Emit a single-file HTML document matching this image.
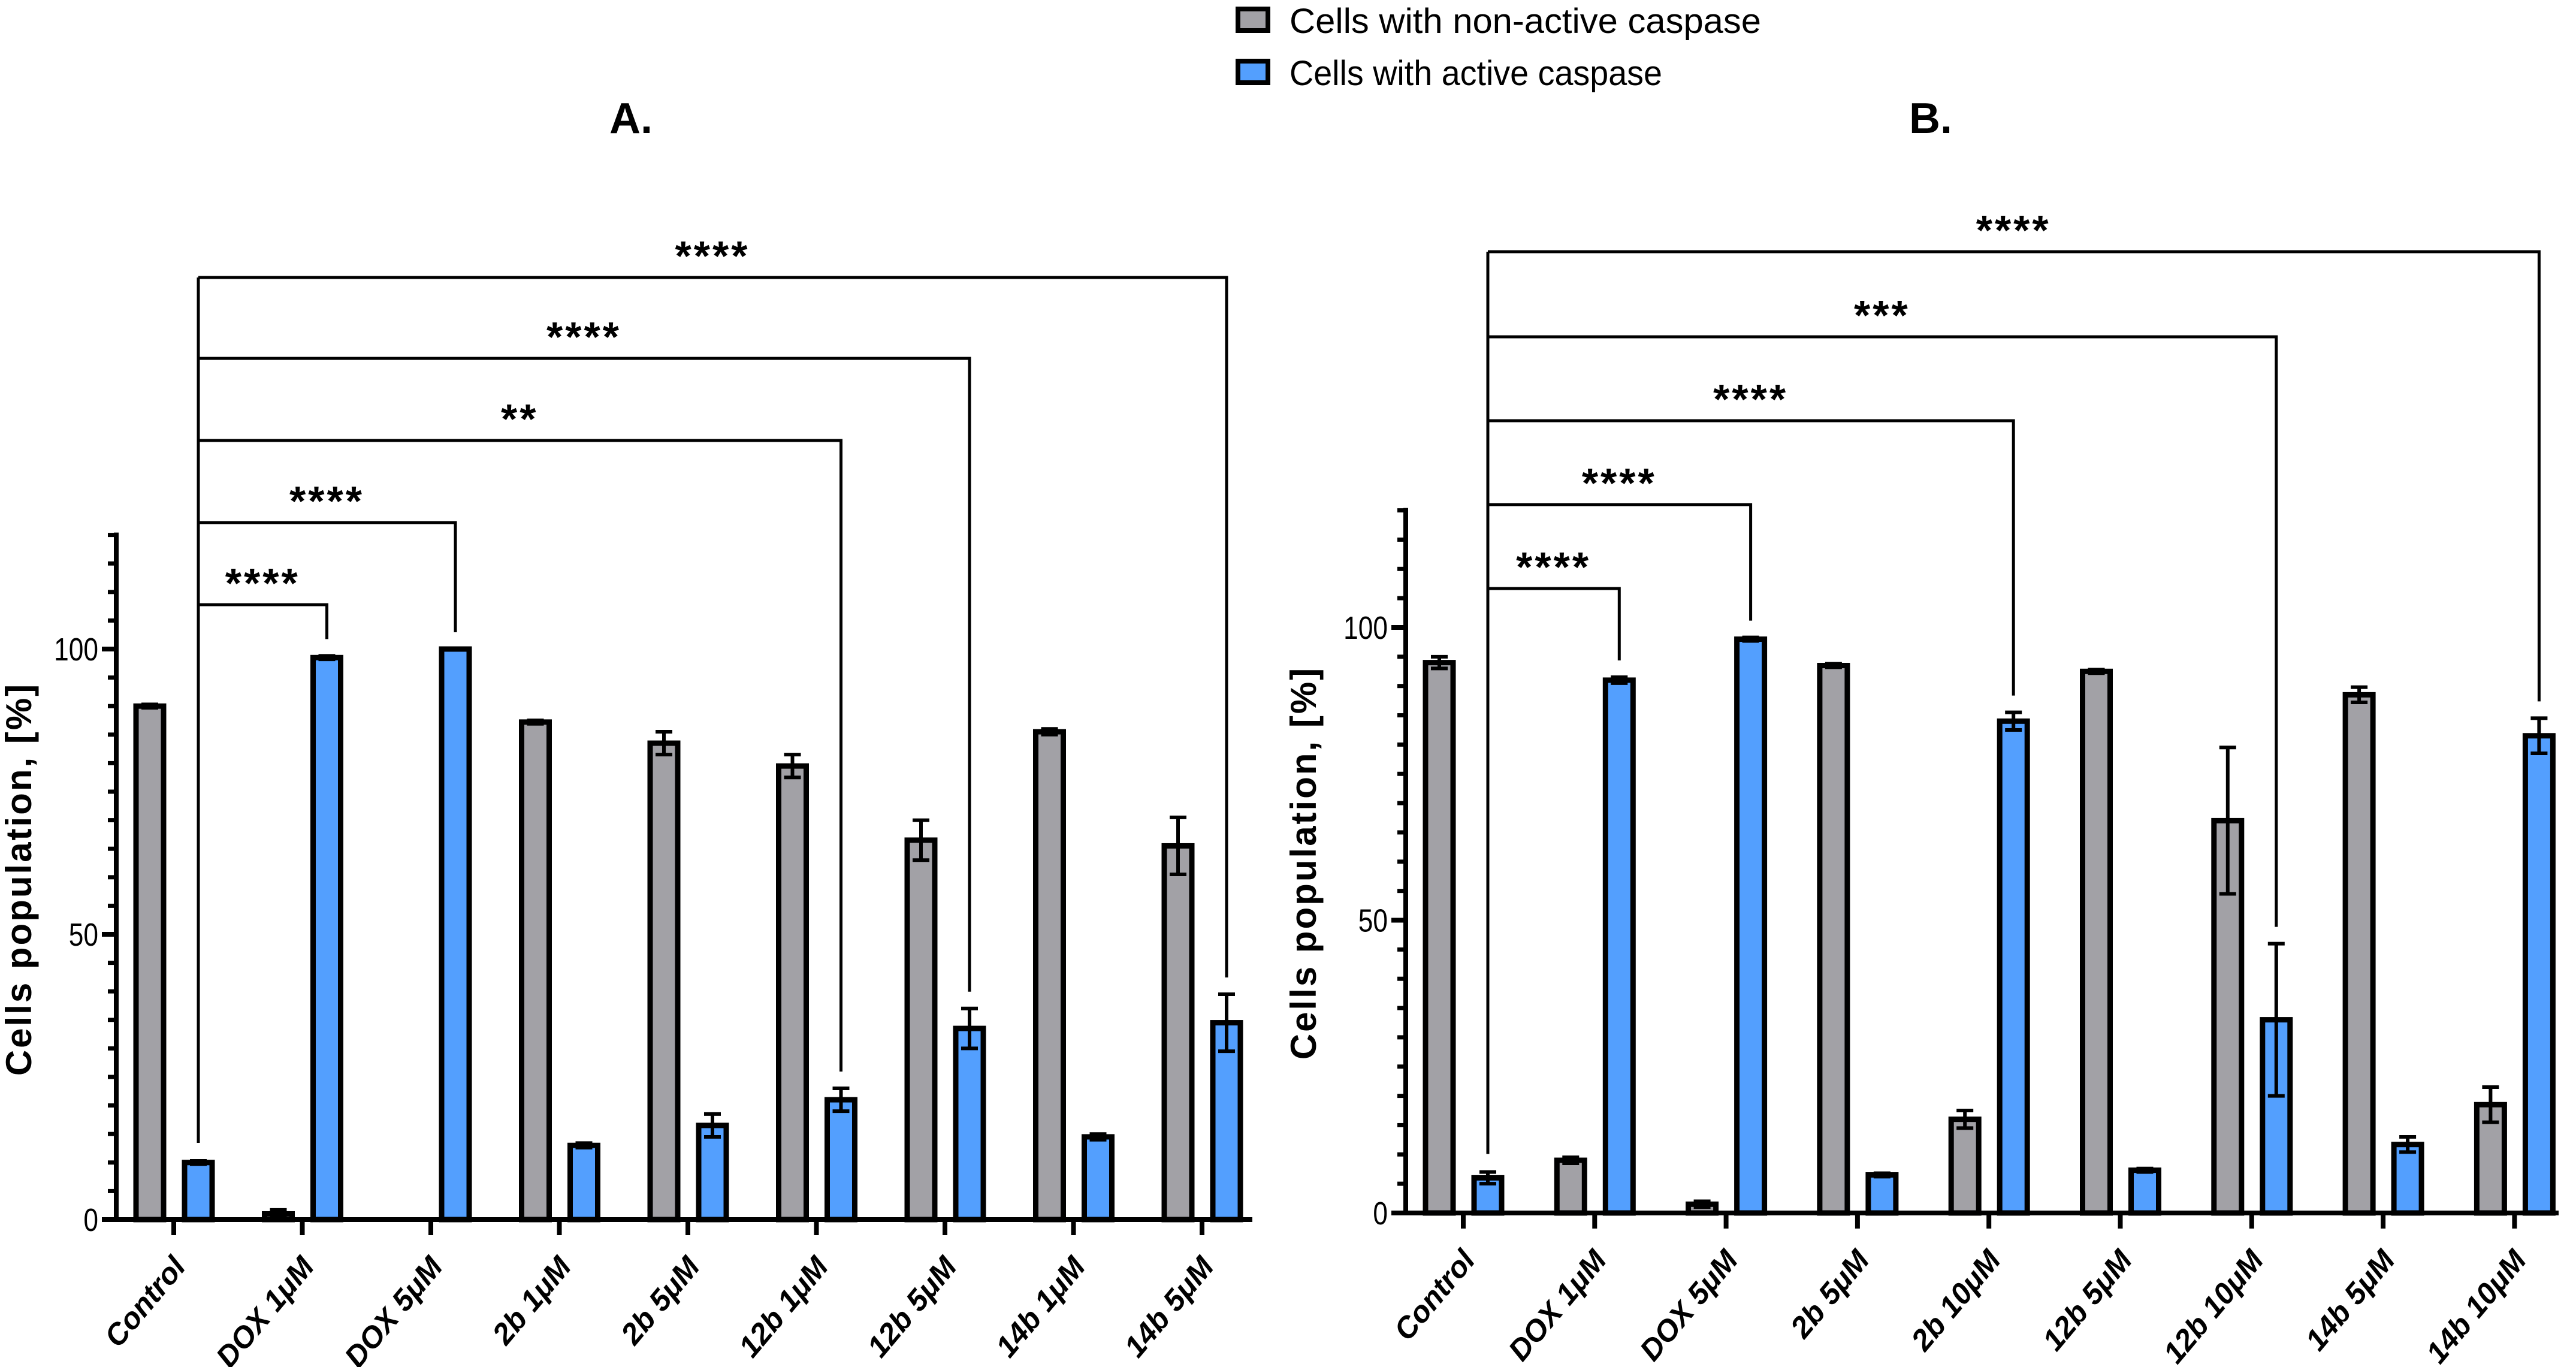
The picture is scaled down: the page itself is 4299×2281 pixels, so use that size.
<!DOCTYPE html>
<html><head><meta charset="utf-8"><style>
html,body{margin:0;padding:0;background:#fff;}
svg{display:block;font-family:"Liberation Sans",Arial,sans-serif;}
</style></head><body>
<svg id="chart" width="4299" height="2281" viewBox="0 0 4299 2281" xmlns="http://www.w3.org/2000/svg">
<g>
 <rect x="2066" y="15" width="50" height="36" fill="#a2a1a6" stroke="#000" stroke-width="8"/>
 <text x="2152" y="55" font-size="58" textLength="787" lengthAdjust="spacingAndGlyphs">Cells with non-active caspase</text>
 <rect x="2066" y="102" width="50" height="36" fill="#539ffe" stroke="#000" stroke-width="8"/>
 <text x="2152" y="142" font-size="58" textLength="622" lengthAdjust="spacingAndGlyphs">Cells with active caspase</text>
</g>
<text x="1053" y="222" font-size="72" font-weight="bold" text-anchor="middle">A.</text>
<text x="3222" y="222" font-size="72" font-weight="bold" text-anchor="middle">B.</text>
<g id="pa"></g>
<g id="pb"></g>
</svg>
<script>
const catsA = ["Control","DOX 1μM","DOX 5μM","2b 1μM","2b 5μM","12b 1μM","12b 5μM","14b 1μM","14b 5μM"];
const grayA = [90,1,0,87.2,83.5,79.5,66.5,85.5,65.5];
const grayErrA = [0.3,0.7,0,0.3,2,2,3.5,0.5,5];
const blueA = [10,98.5,100,13,16.5,21,33.5,14.5,34.5];
const blueErrA = [0.3,0.3,0,0.4,2,2,3.5,0.5,5];
const sigTargetsA = [1,2,5,6,8];
const sigLabelsA = ["****","****","**","****","****"];

const catsB = ["Control","DOX 1μM","DOX 5μM","2b 5μM","2b 10μM","12b 5μM","12b 10μM","14b 5μM","14b 10μM"];
const grayB = [94,9,1.5,93.5,16,92.5,67,88.5,18.5];
const grayErrB = [1,0.5,0.5,0.3,1.5,0.3,12.5,1.3,3];
const blueB = [6,91,98,6.5,84,7.3,33,11.7,81.5];
const blueErrB = [1,0.5,0.3,0.3,1.5,0.3,13,1.3,3];
const sigTargetsB = [1,2,4,6,8];
const sigLabelsB = ["****","****","****","***","****"];
const yTicks = [0,50,100];

const NS="http://www.w3.org/2000/svg";
function mk(parent,tag,attrs){const e=document.createElementNS(NS,tag);for(const k in attrs)e.setAttribute(k,attrs[k]);parent.appendChild(e);return e;}

function panel(g,cfg){
  const y=v=>cfg.y0-(v/100)*cfg.h100;
  const x=i=>cfg.x0+i*cfg.step;
  const ymax=y(120);
  for(let v=0;v<=120;v+=5){
    const major=yTicks.includes(v);
    const t=mk(g,'line',{x1:cfg.ax-(major?24:14),x2:cfg.ax,y1:y(v),y2:y(v),stroke:'#000','stroke-width':major?8:7});
    
    
  }
  yTicks.forEach(v=>{
    const t=mk(g,'text',{x:cfg.ax-30,y:y(v)+19,'font-size':54,'text-anchor':'end',transform:`translate(${cfg.ax-30},0) scale(0.82,1) translate(${-(cfg.ax-30)},0)`});
    t.textContent=v;
    
    
  });
  const yl=mk(g,'text',{x:0,y:0,'font-size':60,'font-weight':'bold','text-anchor':'middle','letter-spacing':3,transform:`translate(${cfg.ylx},${cfg.yly}) rotate(-90)`});
  yl.textContent="Cells population, [%]";
  
  
  const ya=mk(g,'line',{x1:cfg.ax,x2:cfg.ax,y1:ymax-4,y2:cfg.y0+4,stroke:'#000','stroke-width':8});
  
  
  const bw=46;
  cfg.cats.forEach((c,i)=>{
    [[cfg.gray,cfg.grayErr,'#a2a1a6',-40,'bar-non-active'],[cfg.blue,cfg.blueErr,'#539ffe',41,'bar-active']].forEach(([vals,errs,col,off,nm])=>{
      const v=vals[i],cx=x(i)+off,top=y(v);
      if(v>0){
        const r=mk(g,'rect',{x:cx-bw/2,y:top,width:bw,height:cfg.y0-top,fill:col,stroke:'#000','stroke-width':9});
        
        
      }
      if(errs[i]>0){
        const e=errs[i];
        const eg=mk(g,'path',{d:`M${cx},${y(v+e)}V${y(Math.max(0,v-e))}M${cx-14},${y(v+e)}H${cx+14}M${cx-14},${y(Math.max(0,v-e))}H${cx+14}`,stroke:'#000','stroke-width':6,fill:'none'});
        
        
      }
    });
    const tk=mk(g,'line',{x1:x(i),x2:x(i),y1:cfg.y0,y2:cfg.y0+26,stroke:'#000','stroke-width':8});
    
    
    const lb=mk(g,'text',{x:0,y:0,'font-size':50,'font-weight':'bold','font-style':'italic','text-anchor':'end',transform:`translate(${x(i)+22},${cfg.y0+80}) rotate(-50)`});
    lb.textContent=c;
    
    
  });
  const xa=mk(g,'line',{x1:cfg.ax-4,x2:cfg.xend,y1:cfg.y0,y2:cfg.y0,stroke:'#000','stroke-width':8});
  
  
  const lx=x(0)+41;
  const lowEnd=y(cfg.blue[0]+cfg.blueErr[0])-30;
  const bys=cfg.bys;
  const ll=mk(g,'line',{x1:lx,x2:lx,y1:bys[bys.length-1],y2:lowEnd,stroke:'#000','stroke-width':5});
  
  
  cfg.sigT.forEach((t,k)=>{
    const rx=x(t)+41, by=bys[k];
    const rEnd=y(cfg.blue[t]+cfg.blueErr[t])-28;
    const p=mk(g,'path',{d:`M${lx},${by}H${rx}V${rEnd}`,stroke:'#000','stroke-width':5,fill:'none'});
    
    
    const s=mk(g,'text',{x:(lx+rx)/2,y:by-12,'font-size':70,'font-weight':'bold','text-anchor':'middle','letter-spacing':4});
    s.textContent=cfg.sigL[k];
    
    
  });
}
panel(document.getElementById('pa'),{cats:catsA,gray:grayA,grayErr:grayErrA,blue:blueA,blueErr:blueErrA,sigT:sigTargetsA,sigL:sigLabelsA,
  y0:2035,h100:952,ax:194,x0:290,step:214.5,xend:2090,ylx:52,yly:1467,bys:[1009,872,735,598,463]});
panel(document.getElementById('pb'),{cats:catsB,gray:grayB,grayErr:grayErrB,blue:blueB,blueErr:blueErrB,sigT:sigTargetsB,sigL:sigLabelsB,
  y0:2024,h100:977,ax:2346,x0:2442,step:219.3,xend:4270,ylx:2196,yly:1440,bys:[982,842,702,562,420]});
</script>
</body></html>
